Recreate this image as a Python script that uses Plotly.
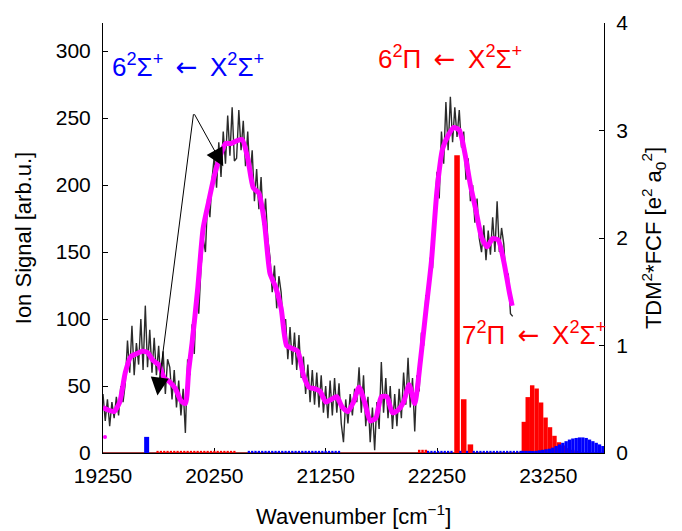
import plotly.graph_objects as go

FONT = "Liberation Sans, Arial, Helvetica, sans-serif"

# ---------------- experimental spectrum (left axis) ----------------
grey_x = list(range(19250, 22931, 20))
grey_y = [
    44, 24, 40, 20, 38, 26, 42, 28, 50, 38,
    52, 84, 60, 95, 58, 82, 66, 100, 62, 110,
    64, 92, 60, 86, 58, 80, 50, 76, 44, 70,
    64, 40, 62, 34, 54, 28, 48, 15, 70, 58,
    96, 74, 122, 104, 138, 160, 150, 190, 176, 205,
    222, 198, 232, 206, 240, 216, 252, 222, 258, 218,
    220, 256, 226, 248, 214, 240, 206, 226, 188, 212,
    182, 206, 170, 190, 160, 146, 120, 140, 108, 132,
    120, 92, 100, 70, 94, 66, 90, 62, 88, 56,
    72, 44, 66, 38, 62, 36, 60, 34, 58, 30,
    50, 26, 54, 28, 56, 30, 52, 22, 8, 40,
    22, 44, 28, 48, 38, 64, 30, 58, 20, 42,
    8, 34, 2, 38, 18, 68, 30, 56, 26, 50,
    18, 44, 20, 48, 26, 60, 36, 71, 34, 56,
    16, 58, 46, 90, 80, 118, 110, 146, 138, 182,
    210, 190, 240, 216, 262, 226, 266, 232, 258, 236,
    256, 228, 240, 204, 220, 188, 200, 172, 190, 160,
    150, 170, 144, 166, 148, 176, 150, 188, 150, 168,
    156, 128, 134, 104, 102,
]

mag_x = [19250, 19300, 19350, 19400, 19450, 19500, 19550, 19600, 19650, 19700,
         19750, 19800, 19850, 19900, 19950, 19990, 20020, 20050, 20100, 20150,
         20200, 20250, 20300, 20350, 20400, 20450, 20500, 20550, 20600, 20650,
         20700, 20750, 20800, 20850, 20900, 20950, 21000, 21050, 21100, 21150,
         21200, 21250, 21300, 21350, 21400, 21450, 21500, 21550, 21600, 21650,
         21700, 21750, 21800, 21850, 21900, 21950, 22000, 22050, 22100, 22150,
         22200, 22250, 22300, 22350, 22400, 22450, 22500, 22550, 22600, 22650,
         22700, 22750, 22800, 22850, 22900, 22925]
mag_y = [34, 32, 31, 38, 60, 72, 74, 76, 75, 69,
         66, 56, 53, 48, 39, 37, 62, 82, 122, 168,
         188, 207, 221, 231, 231, 233, 234, 220, 198, 194,
         172, 134, 124, 108, 80, 78, 76, 58, 49, 48,
         46, 38, 40, 42, 34, 31, 38, 49, 38, 24,
         26, 42, 42, 30, 32, 38, 51, 37, 68, 106,
         143, 196, 227, 237, 243, 241, 224, 200, 181, 161,
         154, 160, 159, 143, 120, 110]

dot_x = [19268]
dot_y = [12]

# ---------------- calculated TDM^2*FCF (right axis) ----------------
red_x = ([19740, 19770, 19800, 19830, 19860, 19890, 19920, 19950, 19980, 20010,
          20040, 20070, 20100, 20130, 20160, 20190, 20220, 20250, 20280, 20310,
          20340, 20370, 20400, 20430]
         + [22090, 22120, 22150]
         + [22430, 22490, 22550]
         + [23030, 23065, 23105, 23145, 23185, 23225, 23265, 23305, 23345, 23385,
            23425, 23465, 23505])
red_h = ([0.02, 0.02, 0.02, 0.02, 0.02, 0.02, 0.02, 0.02, 0.02, 0.02,
          0.02, 0.02, 0.02, 0.02, 0.02, 0.02, 0.02, 0.02, 0.02, 0.02,
          0.02, 0.02, 0.02, 0.02]
         + [0.03, 0.03, 0.03]
         + [2.77, 0.50, 0.08]
         + [0.29, 0.52, 0.63, 0.60, 0.47, 0.33, 0.24, 0.16, 0.10, 0.07,
            0.045, 0.03, 0.02])
red_w = ([20] * 24 + [22] * 3 + [50] * 3 + [40] * 13)

blue_x = ([19642]
          + [20560, 20590, 20620, 20650, 20680, 20710, 20740, 20770, 20800, 20830,
             20860, 20890, 20920, 20950, 20980, 21010, 21040, 21070, 21100, 21130,
             21160, 21190, 21220, 21250, 21280, 21310, 21340, 21370]
          + [22170, 22200, 22230, 22260, 22290, 22320, 22350, 22380, 22460, 22520]
          + [22580, 22610, 22640, 22670, 22700, 22730, 22760, 22790, 22820, 22850,
             22880, 22910, 22940, 22970, 23000]
          + [23020, 23050, 23080, 23110, 23140, 23170, 23200, 23230, 23260, 23290,
             23320, 23350, 23380, 23410, 23440, 23470, 23500, 23530, 23560, 23590,
             23620, 23650, 23680, 23710, 23740])
blue_h = ([0.15]
          + [0.02, 0.02, 0.02, 0.02, 0.02, 0.02, 0.02, 0.02, 0.02, 0.02,
             0.02, 0.02, 0.02, 0.02, 0.02, 0.02, 0.02, 0.02, 0.02, 0.02,
             0.02, 0.02, 0.02, 0.02, 0.02, 0.02, 0.02, 0.02]
          + [0.02, 0.02, 0.02, 0.02, 0.02, 0.02, 0.02, 0.02, 0.02, 0.02]
          + [0.02, 0.02, 0.02, 0.02, 0.02, 0.02, 0.02, 0.02, 0.02, 0.02,
             0.02, 0.02, 0.02, 0.02, 0.02]
          + [0.02, 0.02, 0.02, 0.015, 0.02, 0.025, 0.03, 0.035, 0.04, 0.05,
             0.065, 0.08, 0.095, 0.11, 0.125, 0.135, 0.14, 0.145, 0.145, 0.14,
             0.125, 0.11, 0.095, 0.08, 0.065])
blue_w = ([45] + [20] * 28 + [20] * 10 + [20] * 15 + [30] * 25)

x_ticks = [19250, 20250, 21250, 22250, 23250]
left_ticks = [0, 50, 100, 150, 200, 250, 300]
right_ticks = [0, 1, 2, 3, 4]

fig = go.Figure()

fig.add_trace(go.Bar(x=red_x, y=red_h, width=red_w, yaxis="y",
                     marker=dict(color="#ff0000", line=dict(width=0)),
                     hoverinfo="skip"))
fig.add_trace(go.Bar(x=blue_x, y=blue_h, width=blue_w, yaxis="y",
                     marker=dict(color="#0000ff", line=dict(width=0)),
                     hoverinfo="skip"))
fig.add_trace(go.Scatter(x=grey_x, y=grey_y, yaxis="y2", mode="lines",
                         line=dict(color="#2b2b2b", width=1.4), hoverinfo="skip"))
fig.add_trace(go.Scatter(x=mag_x, y=mag_y, yaxis="y2", mode="lines",
                         line=dict(color="#ff00ff", width=5, shape="spline", smoothing=0.6),
                         hoverinfo="skip"))
fig.add_trace(go.Scatter(x=dot_x, y=dot_y, yaxis="y2", mode="markers",
                         marker=dict(color="#ff00ff", size=4), hoverinfo="skip"))

# baseline of bars
fig.add_shape(type="line", xref="paper", x0=0, x1=1, yref="y", y0=0, y1=0,
              line=dict(color="#800000", width=1.5), layer="below")

# arrows
tail = (20064, 254)
for hx, hy in [(20330, 214), (19739, 43)]:
    fig.add_annotation(x=hx, y=hy, xref="x", yref="y2", ax=tail[0], ay=tail[1],
                       axref="x", ayref="y2", showarrow=True, arrowhead=2,
                       arrowsize=3.6, arrowwidth=1, arrowcolor="black", text="")

ARR = "<span style='font-family:DejaVu Sans'>←</span>"
SP = "\u2009"
fig.add_annotation(x=19310, y=289, xref="x", yref="y2", xanchor="left", yanchor="middle",
                   showarrow=False,
                   text="6<sup>2</sup>Σ<sup>+</sup> " + SP + ARR + SP + " X<sup>2</sup>Σ<sup>+</sup>",
                   font=dict(family=FONT, size=26, color="#0000ff"))
fig.add_annotation(x=21705, y=295, xref="x", yref="y2", xanchor="left", yanchor="middle",
                   showarrow=False,
                   text="6<sup>2</sup>Π " + SP + ARR + SP + " X<sup>2</sup>Σ<sup>+</sup>",
                   font=dict(family=FONT, size=26, color="#ff0000"))
fig.add_annotation(x=22455, y=89, xref="x", yref="y2", xanchor="left", yanchor="middle",
                   showarrow=False,
                   text="7<sup>2</sup>Π " + SP + ARR + SP + " X<sup>2</sup>Σ<sup>+</sup>",
                   font=dict(family=FONT, size=26, color="#ff0000"))

# x-axis title placed as annotation below the tick labels
fig.add_annotation(x=0.5, y=-0.145, xref="paper", yref="paper", xanchor="center",
                   yanchor="middle", showarrow=False,
                   text="Wavenumber [cm<sup>−1</sup>]",
                   font=dict(family=FONT, size=22, color="black"))

axis_common = dict(ticks="inside", ticklen=5, tickcolor="black", showline=True,
                   linecolor="black", linewidth=1, showgrid=False, zeroline=False,
                   tickfont=dict(family=FONT, size=21, color="black"))

fig.update_layout(
    width=682, height=531,
    margin=dict(l=103, r=78, t=23, b=78),
    paper_bgcolor="white", plot_bgcolor="white",
    showlegend=False, barmode="overlay",
    font=dict(family=FONT, size=21, color="black"),
    xaxis=dict(range=[19250, 23750], tickvals=x_ticks, tickformat="d", layer="below traces",
               ticklabelstandoff=4, **axis_common),
    yaxis=dict(range=[0, 4], tickvals=right_ticks, side="right",
               title=dict(text="TDM<sup>2</sup>*FCF [e<sup>2</sup> a<sub>0</sub><sup>2</sup>]",
                          font=dict(size=22), standoff=18),
               ticklabelstandoff=7, **axis_common),
    yaxis2=dict(range=[0, 321], tickvals=left_ticks, side="left", overlaying="y",
                title=dict(text="Ion Signal [arb.u.]", font=dict(size=22), standoff=18),
                ticklabelstandoff=7, **axis_common),
)

fig.write_html("out.html")
